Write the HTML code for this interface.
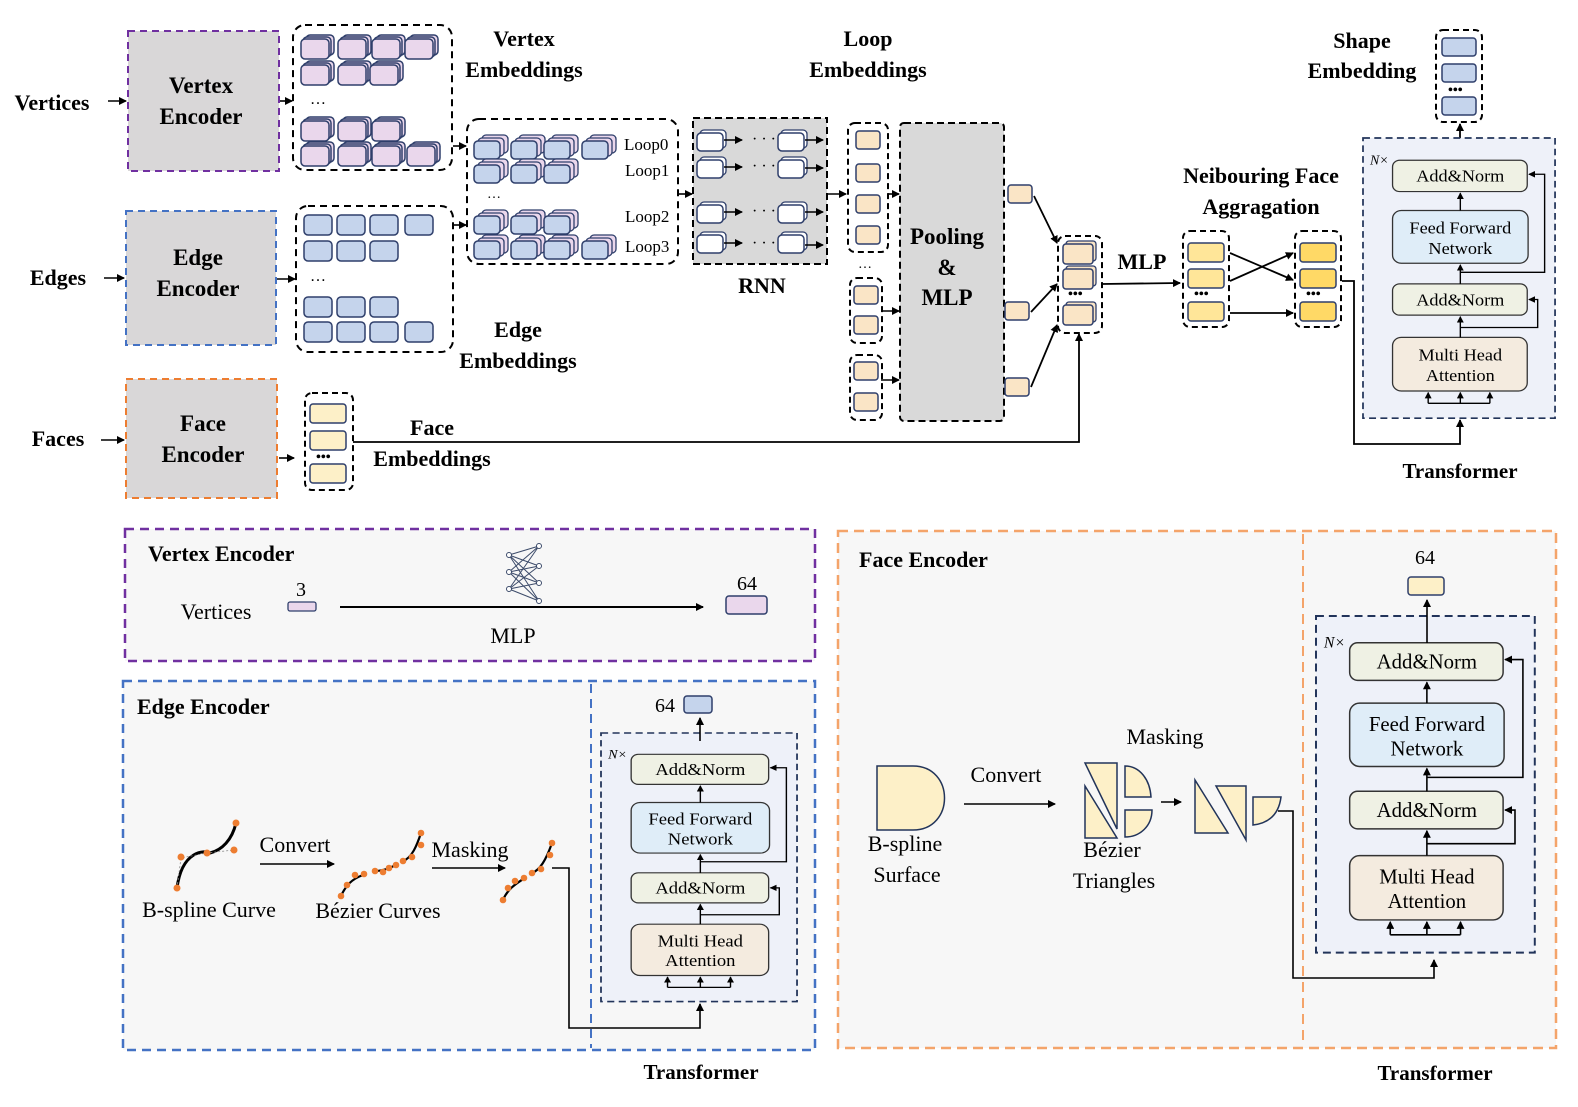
<!DOCTYPE html>
<html><head><meta charset="utf-8"><style>
html,body{margin:0;padding:0;background:#fff}
svg{display:block}
text{font-family:"Liberation Serif",serif;fill:#000}
.b{font-weight:bold}
</style></head><body>
<svg width="1578" height="1107" viewBox="0 0 1578 1107" xmlns="http://www.w3.org/2000/svg">
<defs>
<marker id="a" markerWidth="8" markerHeight="8" refX="7" refY="4" orient="auto" markerUnits="userSpaceOnUse"><path d="M0,0 L8,4 L0,8 z" fill="#000"/></marker>
<g id="pc"><rect x="5" y="-4" width="28" height="20" rx="4" fill="#ead7ec" stroke="#2f3f6b" stroke-width="1.5"/><rect x="2" y="-2" width="28" height="20" rx="4" fill="#ead7ec" stroke="#2f3f6b" stroke-width="1.5"/><rect x="0" y="0" width="28" height="20" rx="4" fill="#ead7ec" stroke="#2f3f6b" stroke-width="1.5"/></g>
<g id="bc"><rect x="0" y="0" width="28" height="20" rx="4" fill="#c5d4ec" stroke="#2f3f6b" stroke-width="1.5"/></g>
<g id="lc"><rect x="8" y="-6" width="26" height="18" rx="4" fill="#ead7ec" stroke="#2f3f6b" stroke-width="1.3"/><rect x="4" y="-3" width="26" height="18" rx="4" fill="#ead7ec" stroke="#2f3f6b" stroke-width="1.3"/><rect x="0" y="0" width="26" height="18" rx="4" fill="#c5d4ec" stroke="#2f3f6b" stroke-width="1.5"/></g>
<g id="wc"><rect x="3" y="-3" width="26" height="18" rx="4" fill="#fff" stroke="#2f3f6b" stroke-width="1.3"/><rect x="0" y="0" width="26" height="18" rx="4" fill="#fff" stroke="#2f3f6b" stroke-width="1.5"/></g>
<g id="oc"><rect x="0" y="0" width="24" height="18" rx="3" fill="#fae5c6" stroke="#2f3f6b" stroke-width="1.5"/></g>
<g id="tf">
<rect x="0" y="0" width="221" height="340" fill="#eef1f9" stroke="#22345a" stroke-width="2" stroke-dasharray="8,5"/>
<text x="8" y="32" font-size="16" font-style="italic">N×</text>
<rect x="34" y="27" width="155" height="38" rx="8" fill="#eff1e4" stroke="#333" stroke-width="1.5"/>
<text x="112" y="53" font-size="21" text-anchor="middle">Add&amp;Norm</text>
<rect x="34" y="88" width="156" height="64" rx="10" fill="#dfedf8" stroke="#333" stroke-width="1.5"/>
<text x="112" y="116" font-size="21" text-anchor="middle">Feed Forward</text>
<text x="112" y="141" font-size="21" text-anchor="middle">Network</text>
<rect x="34" y="177" width="155" height="38" rx="8" fill="#eff1e4" stroke="#333" stroke-width="1.5"/>
<text x="112" y="203" font-size="21" text-anchor="middle">Add&amp;Norm</text>
<rect x="34" y="242" width="155" height="65" rx="10" fill="#f4ebdf" stroke="#333" stroke-width="1.5"/>
<text x="112" y="270" font-size="21" text-anchor="middle">Multi Head</text>
<text x="112" y="295" font-size="21" text-anchor="middle">Attention</text>
<g stroke="#000" stroke-width="1.6" fill="none">
<line x1="112" y1="242" x2="112" y2="217" marker-end="url(#a)"/>
<line x1="112" y1="177" x2="112" y2="154" marker-end="url(#a)"/>
<line x1="112" y1="88" x2="112" y2="67" marker-end="url(#a)"/>
<polyline points="112,230 201,230 201,196 191,196" marker-end="url(#a)"/>
<polyline points="112,163 209,163 209,44 191,44" marker-end="url(#a)"/>
<polyline points="75,322 146,322"/>
<line x1="75" y1="322" x2="75" y2="309" marker-end="url(#a)"/>
<line x1="146" y1="322" x2="146" y2="309" marker-end="url(#a)"/>
<line x1="112" y1="322" x2="112" y2="309" marker-end="url(#a)"/>
</g>
</g>
</defs>

<text x="52" y="110" font-size="22" class="b" text-anchor="middle">Vertices</text>
<text x="58" y="285" font-size="22" class="b" text-anchor="middle">Edges</text>
<text x="58" y="446" font-size="22" class="b" text-anchor="middle">Faces</text>
<g stroke="#000" stroke-width="1.6">
<line x1="108" y1="101" x2="126" y2="101" marker-end="url(#a)"/>
<line x1="104" y1="278" x2="124" y2="278" marker-end="url(#a)"/>
<line x1="101" y1="440" x2="124" y2="440" marker-end="url(#a)"/>
<line x1="280" y1="101" x2="292" y2="101" marker-end="url(#a)"/>
<line x1="277" y1="279" x2="295" y2="279" marker-end="url(#a)"/>
<line x1="279" y1="458" x2="294" y2="458" marker-end="url(#a)"/>
</g>
<rect x="128" y="31" width="151" height="140" fill="#d9d7d8" stroke="#7030a0" stroke-width="2" stroke-dasharray="7,5"/>
<text x="201" y="93" font-size="23" class="b" text-anchor="middle">Vertex</text>
<text x="201" y="124" font-size="23" class="b" text-anchor="middle">Encoder</text>
<rect x="126" y="211" width="150" height="134" fill="#d9d7d8" stroke="#4472c4" stroke-width="2" stroke-dasharray="7,5"/>
<text x="198" y="265" font-size="23" class="b" text-anchor="middle">Edge</text>
<text x="198" y="296" font-size="23" class="b" text-anchor="middle">Encoder</text>
<rect x="126" y="379" width="151" height="119" fill="#d9d7d8" stroke="#ed7d31" stroke-width="2" stroke-dasharray="7,5"/>
<text x="203" y="431" font-size="23" class="b" text-anchor="middle">Face</text>
<text x="203" y="462" font-size="23" class="b" text-anchor="middle">Encoder</text>

<rect x="293" y="25" width="159" height="145" rx="12" fill="none" stroke="#000" stroke-width="2" stroke-dasharray="7,5"/>
<use href="#pc" x="301" y="39"/><use href="#pc" x="338" y="39"/><use href="#pc" x="372" y="39"/><use href="#pc" x="405" y="39"/>
<use href="#pc" x="301" y="65"/><use href="#pc" x="338" y="65"/><use href="#pc" x="370" y="65"/>
<text x="310" y="104" font-size="16">…</text>
<use href="#pc" x="301" y="121"/><use href="#pc" x="338" y="121"/><use href="#pc" x="372" y="121"/>
<use href="#pc" x="301" y="146"/><use href="#pc" x="338" y="146"/><use href="#pc" x="372" y="146"/><use href="#pc" x="407" y="146"/>
<text x="524" y="46" font-size="22" class="b" text-anchor="middle">Vertex</text>
<text x="524" y="77" font-size="22" class="b" text-anchor="middle">Embeddings</text>

<rect x="296" y="206" width="157" height="146" rx="12" fill="none" stroke="#000" stroke-width="2" stroke-dasharray="7,5"/>
<use href="#bc" x="304" y="215"/><use href="#bc" x="337" y="215"/><use href="#bc" x="370" y="215"/><use href="#bc" x="405" y="215"/>
<use href="#bc" x="304" y="241"/><use href="#bc" x="337" y="241"/><use href="#bc" x="370" y="241"/>
<text x="310" y="281" font-size="16">…</text>
<use href="#bc" x="304" y="297"/><use href="#bc" x="337" y="297"/><use href="#bc" x="370" y="297"/>
<use href="#bc" x="304" y="322"/><use href="#bc" x="337" y="322"/><use href="#bc" x="370" y="322"/><use href="#bc" x="405" y="322"/>
<text x="518" y="337" font-size="22" class="b" text-anchor="middle">Edge</text>
<text x="518" y="368" font-size="22" class="b" text-anchor="middle">Embeddings</text>

<g stroke="#000" stroke-width="1.6">
<line x1="453" y1="146" x2="466" y2="146" marker-end="url(#a)"/>
<line x1="453" y1="225" x2="466" y2="225" marker-end="url(#a)"/>
<line x1="678" y1="194" x2="692" y2="194" marker-end="url(#a)"/>
</g>
<rect x="467" y="119" width="211" height="145" rx="12" fill="none" stroke="#000" stroke-width="2" stroke-dasharray="7,5"/>
<use href="#lc" x="474" y="141"/><use href="#lc" x="511" y="141"/><use href="#lc" x="544" y="141"/><use href="#lc" x="582" y="141"/>
<use href="#lc" x="474" y="165"/><use href="#lc" x="511" y="165"/><use href="#lc" x="544" y="165"/>
<text x="487" y="198" font-size="14">…</text>
<use href="#lc" x="474" y="216"/><use href="#lc" x="511" y="216"/><use href="#lc" x="544" y="216"/>
<use href="#lc" x="474" y="241"/><use href="#lc" x="511" y="241"/><use href="#lc" x="544" y="241"/><use href="#lc" x="582" y="241"/>
<text x="624" y="150" font-size="17">Loop0</text>
<text x="625" y="176" font-size="17">Loop1</text>
<text x="625" y="222" font-size="17">Loop2</text>
<text x="625" y="252" font-size="17">Loop3</text>

<rect x="693" y="118" width="134" height="146" fill="#d9d9d9" stroke="#000" stroke-width="2" stroke-dasharray="7,4"/>
<g stroke="#000" stroke-width="1.5">
<use href="#wc" x="697" y="133"/><use href="#wc" x="778" y="133"/>
<use href="#wc" x="697" y="160"/><use href="#wc" x="778" y="160"/>
<use href="#wc" x="697" y="205"/><use href="#wc" x="778" y="205"/>
<use href="#wc" x="697" y="235"/><use href="#wc" x="778" y="235"/>
<line x1="724" y1="140" x2="742" y2="140" marker-end="url(#a)"/><line x1="805" y1="140" x2="823" y2="140" marker-end="url(#a)"/>
<line x1="724" y1="167" x2="742" y2="167" marker-end="url(#a)"/><line x1="805" y1="168" x2="823" y2="168" marker-end="url(#a)"/>
<line x1="724" y1="212" x2="742" y2="212" marker-end="url(#a)"/><line x1="805" y1="212" x2="823" y2="212" marker-end="url(#a)"/>
<line x1="724" y1="243" x2="742" y2="243" marker-end="url(#a)"/><line x1="805" y1="245" x2="823" y2="245" marker-end="url(#a)"/>
</g>
<text x="752" y="144" font-size="16">· · ·</text><text x="752" y="171" font-size="16">· · ·</text>
<text x="752" y="216" font-size="16">· · ·</text><text x="752" y="248" font-size="16">· · ·</text>
<text x="762" y="293" font-size="22" class="b" text-anchor="middle">RNN</text>

<text x="868" y="46" font-size="22" class="b" text-anchor="middle">Loop</text>
<text x="868" y="77" font-size="22" class="b" text-anchor="middle">Embeddings</text>

<g stroke="#000" stroke-width="1.6">
<line x1="827" y1="194" x2="846" y2="194" marker-end="url(#a)"/>
<line x1="888" y1="194" x2="899" y2="194" marker-end="url(#a)"/>
<line x1="881" y1="311" x2="899" y2="311" marker-end="url(#a)"/>
<line x1="881" y1="380" x2="899" y2="380" marker-end="url(#a)"/>
</g>
<rect x="848" y="123" width="40" height="129" rx="7" fill="none" stroke="#000" stroke-width="2" stroke-dasharray="6,4"/>
<use href="#oc" x="856" y="131"/><use href="#oc" x="856" y="164"/><use href="#oc" x="856" y="195"/><use href="#oc" x="856" y="226"/>
<text x="858" y="268" font-size="14">…</text>
<rect x="850" y="278" width="32" height="65" rx="7" fill="none" stroke="#000" stroke-width="2" stroke-dasharray="6,4"/>
<use href="#oc" x="854" y="286"/><use href="#oc" x="854" y="316"/>
<rect x="850" y="355" width="32" height="65" rx="7" fill="none" stroke="#000" stroke-width="2" stroke-dasharray="6,4"/>
<use href="#oc" x="854" y="362"/><use href="#oc" x="854" y="393"/>
<rect x="900" y="123" width="104" height="298" rx="4" fill="#d9d9d9" stroke="#000" stroke-width="2" stroke-dasharray="7,4"/>
<text x="947" y="244" font-size="23" class="b" text-anchor="middle">Pooling</text>
<text x="947" y="275" font-size="23" class="b" text-anchor="middle">&amp;</text>
<text x="947" y="305" font-size="23" class="b" text-anchor="middle">MLP</text>

<use href="#oc" x="1008" y="185"/><use href="#oc" x="1005" y="302"/><use href="#oc" x="1005" y="378"/>
<g stroke="#000" stroke-width="1.8" fill="none">
<line x1="1034" y1="196" x2="1057" y2="243" marker-end="url(#a)"/>
<line x1="1031" y1="312" x2="1057" y2="284" marker-end="url(#a)"/>
<line x1="1031" y1="387" x2="1057" y2="325" marker-end="url(#a)"/>
<polyline points="353,442 1079,442 1079,334" marker-end="url(#a)"/>
<line x1="1102" y1="284" x2="1180" y2="283" marker-end="url(#a)"/>
<line x1="1230" y1="253" x2="1293" y2="280" marker-end="url(#a)"/>
<line x1="1230" y1="281" x2="1293" y2="253" marker-end="url(#a)"/>
<line x1="1230" y1="313" x2="1293" y2="313" marker-end="url(#a)"/>
<polyline points="1342,281 1354,281 1354,444 1460,444 1460,420" marker-end="url(#a)"/>
<line x1="1460" y1="146" x2="1460" y2="124" marker-end="url(#a)"/>
</g>
<rect x="1058" y="236" width="44" height="97" rx="7" fill="none" stroke="#000" stroke-width="2" stroke-dasharray="6,4"/>
<g><rect x="1066" y="241" width="30" height="20" rx="3" fill="#fae5c6" stroke="#2f3f6b" stroke-width="1.3"/><rect x="1063" y="244" width="30" height="20" rx="3" fill="#fae5c6" stroke="#2f3f6b" stroke-width="1.5"/>
<rect x="1066" y="266" width="30" height="20" rx="3" fill="#fae5c6" stroke="#2f3f6b" stroke-width="1.3"/><rect x="1063" y="269" width="30" height="20" rx="3" fill="#fae5c6" stroke="#2f3f6b" stroke-width="1.5"/>
<rect x="1066" y="302" width="30" height="20" rx="3" fill="#fae5c6" stroke="#2f3f6b" stroke-width="1.3"/><rect x="1063" y="305" width="30" height="20" rx="3" fill="#fae5c6" stroke="#2f3f6b" stroke-width="1.5"/></g>
<text x="1068" y="298" font-size="14" class="b">•••</text>
<text x="1142" y="269" font-size="22" class="b" text-anchor="middle">MLP</text>
<text x="1261" y="183" font-size="22" class="b" text-anchor="middle">Neibouring Face</text>
<text x="1261" y="214" font-size="22" class="b" text-anchor="middle">Aggragation</text>
<rect x="1183" y="231" width="46" height="96" rx="7" fill="none" stroke="#000" stroke-width="2" stroke-dasharray="6,4"/>
<rect x="1188" y="243" width="36" height="19" rx="3" fill="#ffe699" stroke="#2f3f6b" stroke-width="1.5"/>
<rect x="1188" y="269" width="36" height="19" rx="3" fill="#ffe699" stroke="#2f3f6b" stroke-width="1.5"/>
<rect x="1188" y="302" width="36" height="19" rx="3" fill="#ffe699" stroke="#2f3f6b" stroke-width="1.5"/>
<text x="1194" y="298" font-size="14" class="b">•••</text>
<rect x="1295" y="231" width="46" height="96" rx="7" fill="none" stroke="#000" stroke-width="2" stroke-dasharray="6,4"/>
<rect x="1300" y="243" width="36" height="19" rx="3" fill="#ffd966" stroke="#2f3f6b" stroke-width="1.5"/>
<rect x="1300" y="269" width="36" height="19" rx="3" fill="#ffd966" stroke="#2f3f6b" stroke-width="1.5"/>
<rect x="1300" y="302" width="36" height="19" rx="3" fill="#ffd966" stroke="#2f3f6b" stroke-width="1.5"/>
<text x="1306" y="298" font-size="14" class="b">•••</text>

<text x="1362" y="48" font-size="22" class="b" text-anchor="middle">Shape</text>
<text x="1362" y="78" font-size="22" class="b" text-anchor="middle">Embedding</text>
<rect x="1436" y="30" width="46" height="92" rx="7" fill="none" stroke="#000" stroke-width="2" stroke-dasharray="6,4"/>
<rect x="1442" y="38" width="34" height="18" rx="3" fill="#c5d4ec" stroke="#2f3f6b" stroke-width="1.5"/>
<rect x="1442" y="64" width="34" height="18" rx="3" fill="#c5d4ec" stroke="#2f3f6b" stroke-width="1.5"/>
<rect x="1442" y="97" width="34" height="18" rx="3" fill="#c5d4ec" stroke="#2f3f6b" stroke-width="1.5"/>
<text x="1448" y="94" font-size="14" class="b">•••</text>
<use href="#tf" transform="translate(1363,138) scale(0.869,0.824)"/>
<text x="1460" y="478" font-size="21" class="b" text-anchor="middle">Transformer</text>

<rect x="305" y="393" width="48" height="97" rx="7" fill="none" stroke="#000" stroke-width="2" stroke-dasharray="6,4"/>
<rect x="310" y="404" width="36" height="19" rx="3" fill="#fdf0c8" stroke="#2f3f6b" stroke-width="1.5"/>
<rect x="310" y="431" width="36" height="19" rx="3" fill="#fdf0c8" stroke="#2f3f6b" stroke-width="1.5"/>
<rect x="310" y="464" width="36" height="19" rx="3" fill="#fdf0c8" stroke="#2f3f6b" stroke-width="1.5"/>
<text x="316" y="461" font-size="14" class="b">•••</text>
<text x="432" y="435" font-size="22" class="b" text-anchor="middle">Face</text>
<text x="432" y="466" font-size="22" class="b" text-anchor="middle">Embeddings</text>

<rect x="125" y="529" width="690" height="132" fill="#f7f7f7" stroke="#7030a0" stroke-width="2.5" stroke-dasharray="9,6"/>
<text x="148" y="561" font-size="22" class="b">Vertex Encoder</text>
<text x="216" y="619" font-size="22" text-anchor="middle">Vertices</text>
<text x="301" y="596" font-size="20" text-anchor="middle">3</text>
<rect x="288" y="602" width="28" height="9" rx="2" fill="#ead7ec" stroke="#2f3f6b" stroke-width="1.3"/>
<line x1="340" y1="607" x2="703" y2="607" stroke="#000" stroke-width="2" marker-end="url(#a)"/>
<text x="513" y="643" font-size="22" text-anchor="middle">MLP</text>
<text x="747" y="590" font-size="20" text-anchor="middle">64</text>
<rect x="726" y="596" width="41" height="18" rx="3" fill="#ead7ec" stroke="#2f3f6b" stroke-width="1.5"/>
<g transform="translate(97,0)" stroke="#3c4b6a" stroke-width="1">
<line x1="412" y1="555" x2="442" y2="546"/><line x1="412" y1="555" x2="442" y2="566"/><line x1="412" y1="555" x2="442" y2="583"/><line x1="412" y1="555" x2="442" y2="601"/>
<line x1="412" y1="572" x2="442" y2="546"/><line x1="412" y1="572" x2="442" y2="566"/><line x1="412" y1="572" x2="442" y2="583"/><line x1="412" y1="572" x2="442" y2="601"/>
<line x1="412" y1="589" x2="442" y2="546"/><line x1="412" y1="589" x2="442" y2="566"/><line x1="412" y1="589" x2="442" y2="583"/><line x1="412" y1="589" x2="442" y2="601"/>
</g>
<g transform="translate(97,0)" stroke="#3c4b6a" stroke-width="1" fill="#fff">
<circle cx="412" cy="555" r="2.5"/><circle cx="412" cy="572" r="2.5"/><circle cx="412" cy="589" r="2.5"/>
<circle cx="442" cy="546" r="2.5"/><circle cx="442" cy="566" r="2.5"/><circle cx="442" cy="583" r="2.5"/><circle cx="442" cy="601" r="2.5"/>
</g>

<rect x="123" y="681" width="692" height="369" fill="#f7f7f7" stroke="#4472c4" stroke-width="2.5" stroke-dasharray="9,6"/>
<line x1="591" y1="684" x2="591" y2="1048" stroke="#4472c4" stroke-width="2" stroke-dasharray="9,6"/>
<text x="137" y="714" font-size="22" class="b">Edge Encoder</text>
<path d="M177,888 C182,850 205,850 210,853 C222,850 232,840 236,823" fill="none" stroke="#000" stroke-width="3"/>
<polyline points="177,888 181,858 207,853 234,850" fill="none" stroke="#888" stroke-width="0.8" stroke-dasharray="2,2"/>
<g fill="#ed7d31"><circle cx="177" cy="888" r="3.5"/><circle cx="181" cy="857" r="3.5"/><circle cx="207" cy="853" r="3.5"/><circle cx="234" cy="850" r="3.5"/><circle cx="236" cy="823" r="3.5"/></g>
<text x="209" y="917" font-size="22" text-anchor="middle">B-spline Curve</text>
<text x="295" y="852" font-size="22" text-anchor="middle">Convert</text>
<line x1="260" y1="864" x2="334" y2="864" stroke="#000" stroke-width="1.6" marker-end="url(#a)"/>
<g fill="none" stroke="#000" stroke-width="2.2"><path d="M341,896 C346,885 352,879 363,875"/><path d="M375,871 C383,871 390,868 398,864"/><path d="M403,861 C412,858 417,845 421,833"/></g>
<g fill="#ed7d31"><circle cx="341" cy="896" r="3.3"/><circle cx="347" cy="885" r="3.3"/><circle cx="355" cy="875" r="3.3"/><circle cx="364" cy="874" r="3.3"/><circle cx="375" cy="871" r="3.3"/><circle cx="383" cy="872" r="3.3"/><circle cx="389" cy="868" r="3.3"/><circle cx="396" cy="865" r="3.3"/><circle cx="403" cy="861" r="3.3"/><circle cx="412" cy="857" r="3.3"/><circle cx="421" cy="833" r="3.3"/><circle cx="421" cy="845" r="3.3"/></g>
<text x="378" y="918" font-size="22" text-anchor="middle">Bézier Curves</text>
<text x="470" y="857" font-size="22" text-anchor="middle">Masking</text>
<line x1="432" y1="868" x2="505" y2="868" stroke="#000" stroke-width="1.6" marker-end="url(#a)"/>
<g fill="none" stroke="#000" stroke-width="2.2"><path d="M503,900 C507,890 515,884 525,878"/><path d="M532,873 C540,870 546,860 552,843"/></g>
<g fill="#ed7d31"><circle cx="503" cy="900" r="3.3"/><circle cx="508" cy="888" r="3.3"/><circle cx="515" cy="881" r="3.3"/><circle cx="524" cy="878" r="3.3"/><circle cx="532" cy="873" r="3.3"/><circle cx="541" cy="869" r="3.3"/><circle cx="550" cy="855" r="3.3"/><circle cx="552" cy="843" r="3.3"/></g>
<polyline points="552,868 569,868 569,1028 700,1028 700,1004" fill="none" stroke="#000" stroke-width="1.6" marker-end="url(#a)"/>
<use href="#tf" transform="translate(601,733) scale(0.887,0.79)"/>
<line x1="700" y1="741" x2="700" y2="718" stroke="#000" stroke-width="1.6" marker-end="url(#a)"/>
<text x="665" y="712" font-size="20" text-anchor="middle">64</text>
<rect x="684" y="696" width="28" height="17" rx="3" fill="#c5d4ec" stroke="#2f3f6b" stroke-width="1.5"/>
<text x="701" y="1079" font-size="21" class="b" text-anchor="middle">Transformer</text>

<rect x="838" y="531" width="718" height="517" fill="#f7f7f7" stroke="#f4a46a" stroke-width="2.5" stroke-dasharray="10,6"/>
<line x1="1303" y1="534" x2="1303" y2="1046" stroke="#f4a46a" stroke-width="2" stroke-dasharray="10,6"/>
<text x="859" y="567" font-size="22" class="b">Face  Encoder</text>
<path d="M877,766 L913,766 C955,766 955,830 913,830 L877,830 Z" fill="#fdf0c8" stroke="#22345a" stroke-width="1.5"/>
<text x="905" y="851" font-size="22" text-anchor="middle">B-spline</text>
<text x="907" y="882" font-size="22" text-anchor="middle">Surface</text>
<text x="1006" y="782" font-size="22" text-anchor="middle">Convert</text>
<line x1="964" y1="804" x2="1055" y2="804" stroke="#000" stroke-width="1.6" marker-end="url(#a)"/>
<g fill="#fdf0c8" stroke="#22345a" stroke-width="1.5">
<path d="M1085,763 L1117,763 L1117,829 Z"/>
<path d="M1085,786 L1117,838 L1085,838 Z"/>
<path d="M1125,766 C1140,766 1150,780 1151,797 L1125,797 Z"/>
<path d="M1125,810 L1152,810 C1152,826 1140,837 1125,837 Z"/>
<path d="M1195,780 L1228,833 L1195,833 Z"/>
<path d="M1216,786 L1246,786 L1246,840 Z"/>
<path d="M1253,797 L1281,797 C1279,813 1270,823 1253,825 Z"/>
</g>
<text x="1112" y="857" font-size="22" text-anchor="middle">Bézier</text>
<text x="1114" y="888" font-size="22" text-anchor="middle">Triangles</text>
<text x="1165" y="744" font-size="22" text-anchor="middle">Masking</text>
<line x1="1161" y1="802" x2="1181" y2="802" stroke="#000" stroke-width="1.6" marker-end="url(#a)"/>
<polyline points="1278,811 1293,811 1293,978 1434,978 1434,960" fill="none" stroke="#000" stroke-width="1.6" marker-end="url(#a)"/>
<use href="#tf" transform="translate(1316,616) scale(0.99,0.99)"/>
<line x1="1427" y1="643" x2="1427" y2="600" stroke="#000" stroke-width="1.6" marker-end="url(#a)"/>
<text x="1425" y="564" font-size="20" text-anchor="middle">64</text>
<rect x="1408" y="577" width="36" height="18" rx="3" fill="#fdf0c8" stroke="#2f3f6b" stroke-width="1.5"/>
<text x="1435" y="1080" font-size="21" class="b" text-anchor="middle">Transformer</text>
</svg>
</body></html>
